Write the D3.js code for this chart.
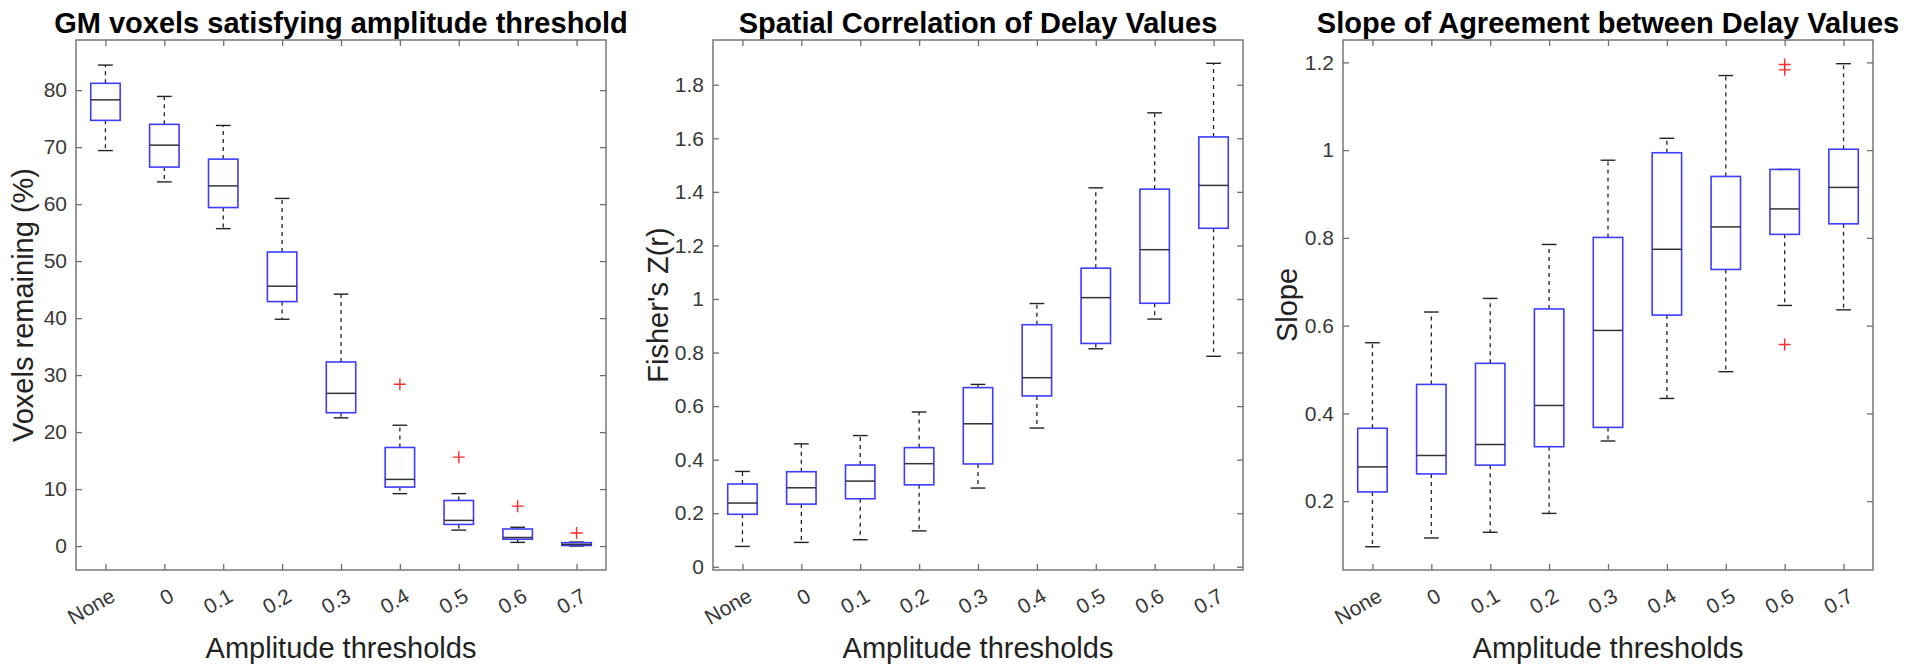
<!DOCTYPE html>
<html><head><meta charset="utf-8">
<script src="https://cdn.jsdelivr.net/npm/d3@7"></script>
<style>
html,body{margin:0;padding:0;background:#fff;}
svg{display:block;font-family:"Liberation Sans",Arial,Helvetica,sans-serif;}
</style></head><body>
<svg id="chart" width="1920" height="670"></svg>
<script>
// ---------------- data ----------------
const categories = ["None","0","0.1","0.2","0.3","0.4","0.5","0.6","0.7"];
const xLabel = "Amplitude thresholds";

// Panel 1
const p1Title = "GM voxels satisfying amplitude threshold";
const p1YLabel = "Voxels remaining (%)";
const p1Lower  = [69.4, 63.9, 55.7, 39.8, 22.5, 9.2, 2.8, 0.65, 0.0];
const p1Q1     = [74.7, 66.5, 59.4, 42.9, 23.4, 10.35, 3.8, 1.2, 0.1];
const p1Median = [78.3, 70.35, 63.2, 45.6, 26.8, 11.7, 4.5, 1.5, 0.3];
const p1Q3     = [81.2, 74.0, 67.9, 51.6, 32.3, 17.3, 8.0, 3.0, 0.6];
const p1Upper  = [84.4, 78.9, 73.8, 61.0, 44.2, 21.2, 9.2, 3.3, 0.7];
const p1Outliers = [["0.4", 28.4], ["0.5", 15.6], ["0.6", 7.0], ["0.7", 2.3]];
const p1Ticks  = [0, 10, 20, 30, 40, 50, 60, 70, 80];
const p1Limits = [-4.2, 88.8];

// Panel 2
const p2Title = "Spatial Correlation of Delay Values";
const p2YLabel = "Fisher's Z(r)";
const p2Lower  = [0.076, 0.091, 0.101, 0.134, 0.294, 0.518, 0.814, 0.925, 0.786];
const p2Q1     = [0.196, 0.234, 0.254, 0.306, 0.384, 0.638, 0.834, 0.984, 1.264];
const p2Median = [0.238, 0.295, 0.320, 0.385, 0.534, 0.706, 1.005, 1.184, 1.424];
const p2Q3     = [0.309, 0.355, 0.380, 0.445, 0.669, 0.904, 1.115, 1.410, 1.605];
const p2Upper  = [0.356, 0.459, 0.490, 0.578, 0.681, 0.983, 1.415, 1.695, 1.880];
const p2Outliers = [];
const p2Ticks  = [0, 0.2, 0.4, 0.6, 0.8, 1, 1.2, 1.4, 1.6, 1.8];
const p2Limits = [-0.012, 1.967];

// Panel 3
const p3Title = "Slope of Agreement between Delay Values";
const p3YLabel = "Slope";
const p3Lower  = [0.096, 0.116, 0.129, 0.172, 0.337, 0.434, 0.495, 0.646, 0.636];
const p3Q1     = [0.221, 0.262, 0.282, 0.324, 0.368, 0.624, 0.728, 0.808, 0.832];
const p3Median = [0.278, 0.304, 0.329, 0.418, 0.589, 0.774, 0.825, 0.866, 0.915];
const p3Q3     = [0.366, 0.466, 0.514, 0.638, 0.801, 0.994, 0.940, 0.956, 1.002];
const p3Upper  = [0.561, 0.631, 0.662, 0.785, 0.977, 1.027, 1.170, 0.956, 1.197];
const p3Outliers = [["0.6", 1.195], ["0.6", 1.183], ["0.6", 0.557]];
const p3Ticks  = [0.2, 0.4, 0.6, 0.8, 1, 1.2];
const p3Limits = [0.043, 1.251];

// ---------------- layout ----------------
const plotTop = 40, plotBottom = 570;
const layout = [
  {left: 76,   right: 606,  yLabelX: 33},
  {left: 713,  right: 1243, yLabelX: 668},
  {left: 1343, right: 1873, yLabelX: 1297}
];
const panels = [
  {title: p1Title, yLabel: p1YLabel, lower: p1Lower, q1: p1Q1, median: p1Median, q3: p1Q3, upper: p1Upper, outliers: p1Outliers, ticks: p1Ticks, limits: p1Limits},
  {title: p2Title, yLabel: p2YLabel, lower: p2Lower, q1: p2Q1, median: p2Median, q3: p2Q3, upper: p2Upper, outliers: p2Outliers, ticks: p2Ticks, limits: p2Limits},
  {title: p3Title, yLabel: p3YLabel, lower: p3Lower, q1: p3Q1, median: p3Median, q3: p3Q3, upper: p3Upper, outliers: p3Outliers, ticks: p3Ticks, limits: p3Limits}
];

const svg = d3.select("#chart");
const axisColor = "#6e6e6e", labelColor = "#383838", boxColor = "#3d3dff", whiskColor = "#222";
const tickLen = 6;
const fontFam = '"Liberation Sans",Arial,Helvetica,sans-serif';

panels.forEach((p, k) => {
  const L = layout[k];
  const x = d3.scalePoint().domain(categories).range([L.left, L.right]).padding(0.5);
  const y = d3.scaleLinear().domain(p.limits).range([plotBottom, plotTop]);
  const step = x.step();
  const bw = step * 0.5, capHalf = step * 0.125;
  const g = svg.append("g");

  // axes
  const styleAxis = sel => {
    sel.attr("font-family", fontFam).attr("font-size", 21);
    sel.select(".domain").remove();
    sel.selectAll(".tick line").attr("stroke", axisColor).attr("stroke-width", 1.3);
    sel.selectAll(".tick text").attr("fill", labelColor);
  };
  g.append("g").attr("transform", `translate(${L.left},0)`)
    .call(d3.axisLeft(y).tickValues(p.ticks).tickFormat(d => String(d)).tickSize(-tickLen).tickPadding(9))
    .call(styleAxis);
  g.append("g").attr("transform", `translate(${L.right},0)`)
    .call(d3.axisRight(y).tickValues(p.ticks).tickFormat("").tickSize(-tickLen))
    .call(styleAxis);
  g.append("g").attr("transform", `translate(0,${plotTop})`)
    .call(d3.axisTop(x).tickFormat("").tickSize(-tickLen))
    .call(styleAxis);
  const xb = g.append("g").attr("transform", `translate(0,${plotBottom})`)
    .call(d3.axisBottom(x).tickSize(-tickLen))
    .call(styleAxis);
  xb.selectAll(".tick text")
    .attr("y", null).attr("dy", "0.72em")
    .attr("text-anchor", "end")
    .attr("transform", "translate(3,17) rotate(-30)");

  // frame
  g.append("rect").attr("x", L.left).attr("y", plotTop)
    .attr("width", L.right - L.left).attr("height", plotBottom - plotTop)
    .attr("fill", "none").attr("stroke", axisColor).attr("stroke-width", 1.4);

  // boxes
  categories.forEach((c, i) => {
    const cx = x(c);
    const bg = g.append("g");
    bg.append("line").attr("x1", cx).attr("x2", cx).attr("y1", y(p.q3[i])).attr("y2", y(p.upper[i]))
      .attr("stroke", whiskColor).attr("stroke-width", 1.3).attr("stroke-dasharray", "4,4");
    bg.append("line").attr("x1", cx).attr("x2", cx).attr("y1", y(p.q1[i])).attr("y2", y(p.lower[i]))
      .attr("stroke", whiskColor).attr("stroke-width", 1.3).attr("stroke-dasharray", "4,4");
    [p.upper[i], p.lower[i]].forEach(v => {
      bg.append("line").attr("x1", cx - capHalf).attr("x2", cx + capHalf).attr("y1", y(v)).attr("y2", y(v))
        .attr("stroke", whiskColor).attr("stroke-width", 1.4);
    });
    bg.append("rect").attr("x", cx - bw / 2).attr("y", y(p.q3[i]))
      .attr("width", bw).attr("height", Math.max(0.5, y(p.q1[i]) - y(p.q3[i])))
      .attr("fill", "none").attr("stroke", boxColor).attr("stroke-width", 1.6);
    bg.append("line").attr("x1", cx - bw / 2).attr("x2", cx + bw / 2)
      .attr("y1", y(p.median[i])).attr("y2", y(p.median[i]))
      .attr("stroke", "#333").attr("stroke-width", 1.5);
  });

  // outliers
  g.selectAll(".outlier").data(p.outliers).join("path")
    .attr("class", "outlier")
    .attr("d", d => {
      const cx = x(d[0]), cy = y(d[1]), r = 6;
      return `M${cx - r},${cy}H${cx + r}M${cx},${cy - r}V${cy + r}`;
    })
    .attr("stroke", "#ff2a2a").attr("stroke-width", 1.4).attr("fill", "none");

  // texts
  const cxm = (L.left + L.right) / 2;
  g.append("text").attr("x", cxm).attr("y", 33).attr("text-anchor", "middle")
    .attr("font-family", fontFam).attr("font-size", 29).attr("font-weight", "bold")
    .attr("fill", "#000").text(p.title);
  g.append("text").attr("x", cxm).attr("y", 658).attr("text-anchor", "middle")
    .attr("font-family", fontFam).attr("font-size", 29).attr("fill", "#222").text(xLabel);
  g.append("text").attr("transform", `translate(${L.yLabelX},${(plotTop + plotBottom) / 2}) rotate(-90)`)
    .attr("text-anchor", "middle")
    .attr("font-family", fontFam).attr("font-size", 29).attr("fill", "#222").text(p.yLabel);
});
</script>
</body></html>
